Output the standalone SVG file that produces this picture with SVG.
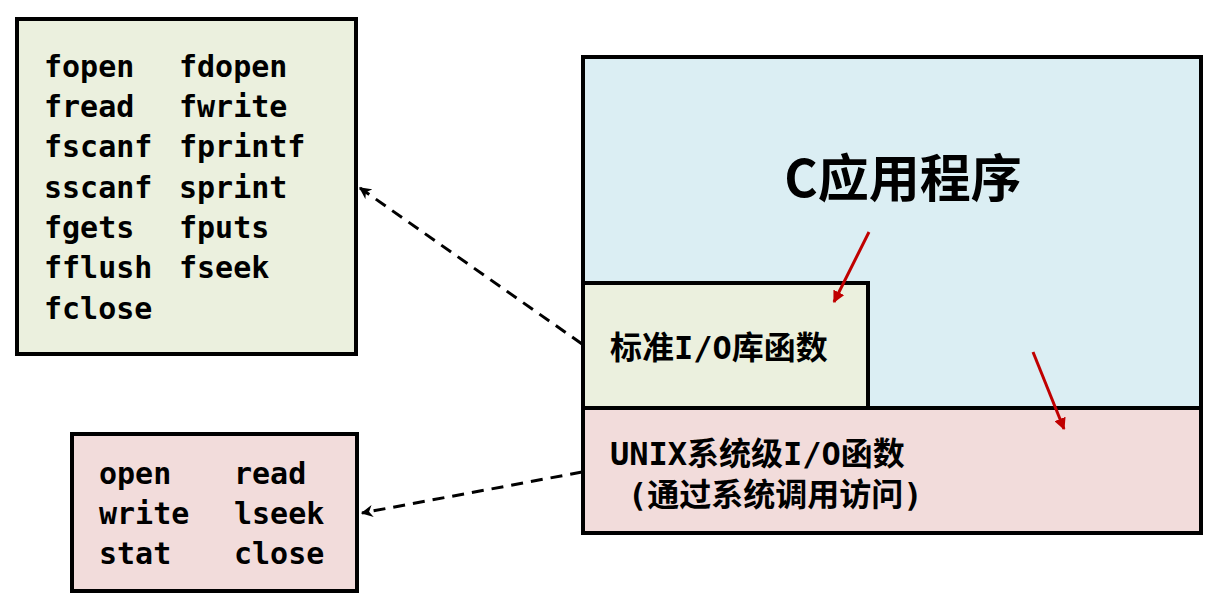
<svg xmlns="http://www.w3.org/2000/svg" width="1222" height="601" viewBox="0 0 1222 601">
  <style>
    .box { stroke: #000; stroke-width: 4; }
    .green { fill: #EBF0DE; }
    .pink { fill: #F2DCDB; }
    .blue { fill: #DBEEF3; }
    .mono { font-family: "DejaVu Sans Mono", "Liberation Mono", monospace; font-weight: bold; font-size: 30px; fill: #000; }
    .mix { font-family: "DejaVu Sans Mono", "Noto Sans CJK SC", monospace; font-weight: bold; font-size: 32px; fill: #000; }
    .title { font-family: "Noto Sans CJK SC", sans-serif; font-weight: bold; font-size: 51px; fill: #000; }
    .dash { stroke: #000; stroke-width: 3; stroke-dasharray: 12 8; fill: none; }
    .red { stroke: #C00000; stroke-width: 3; fill: none; }
  </style>
  <defs>
    <marker id="blackHead" viewBox="0 0 10 10" refX="9" refY="5" markerWidth="4" markerHeight="4" orient="auto" markerUnits="strokeWidth">
      <path d="M0,0 L10,5 L0,10 L3,5 Z" fill="#000"/>
    </marker>
    <marker id="redHead" viewBox="0 0 10 10" refX="9" refY="5" markerWidth="4" markerHeight="4" orient="auto" markerUnits="strokeWidth">
      <path d="M0,0 L10,5 L0,10 Z" fill="#C00000"/>
    </marker>
  </defs>

  <g id="stdio-list">
    <rect class="box green" x="17" y="19" width="339" height="335"/>
    <text class="mono">
      <tspan x="44" y="77">fopen</tspan>
      <tspan x="44" y="117">fread</tspan>
      <tspan x="44" y="157">fscanf</tspan>
      <tspan x="44" y="198">sscanf</tspan>
      <tspan x="44" y="238">fgets</tspan>
      <tspan x="44" y="278">fflush</tspan>
      <tspan x="44" y="319">fclose</tspan>
    </text>
    <text class="mono">
      <tspan x="179" y="77">fdopen</tspan>
      <tspan x="179" y="117">fwrite</tspan>
      <tspan x="179" y="157">fprintf</tspan>
      <tspan x="179" y="198">sprint</tspan>
      <tspan x="179" y="238">fputs</tspan>
      <tspan x="179" y="278">fseek</tspan>
    </text>
  </g>

  <g id="unix-list">
    <rect class="box pink" x="72" y="434" width="285" height="157"/>
    <text class="mono">
      <tspan x="99" y="484">open</tspan>
      <tspan x="99" y="524">write</tspan>
      <tspan x="99" y="564">stat</tspan>
    </text>
    <text class="mono">
      <tspan x="234" y="484">read</tspan>
      <tspan x="234" y="524">lseek</tspan>
      <tspan x="234" y="564">close</tspan>
    </text>
  </g>

  <g id="c-app">
    <rect class="box blue" x="583" y="57" width="618" height="476"/>
    <text class="title" x="903" y="197" text-anchor="middle">C应用程序</text>
  </g>

  <g id="stdio-lib">
    <rect class="box green" x="583" y="283" width="285" height="125"/>
    <text class="mix" x="610" y="359">标准I/O库函数</text>
  </g>

  <g id="unix-io">
    <rect class="box pink" x="583" y="408" width="618" height="125"/>
    <text class="mix" x="610" y="465">UNIX系统级I/O函数</text>
    <text class="mix" x="628" y="506">(通过系统调用访问)</text>
  </g>

  <g id="connectors">
    <line class="dash" x1="582" y1="344" x2="360" y2="188" marker-end="url(#blackHead)"/>
    <line class="dash" x1="582" y1="472" x2="362" y2="513" marker-end="url(#blackHead)"/>
    <line class="red" x1="869" y1="232" x2="834" y2="302" marker-end="url(#redHead)"/>
    <line class="red" x1="1033" y1="352" x2="1064" y2="429" marker-end="url(#redHead)"/>
  </g>
</svg>
